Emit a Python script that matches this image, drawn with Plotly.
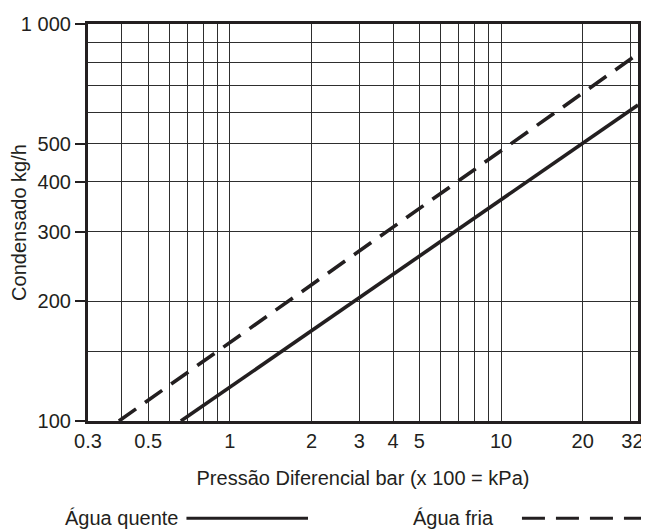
import plotly.graph_objects as go

# Data (log-log)
agua_quente_x = [0.66, 32]
agua_quente_y = [100, 625]
agua_fria_x = [0.39, 31.4]
agua_fria_y = [100, 833]

x_tickvals = [0.3, 0.5, 1, 2, 3, 4, 5, 10, 20, 32]
x_ticktext = ["0.3", "0.5", "1", "2", "3", "4", "5", "10", "20", "32\u00a0\u00a0"]
x_minor = [0.4, 0.6, 0.7, 0.8, 0.9, 6, 7, 8, 9, 30]
y_tickvals = [100, 200, 300, 400, 500, 1000]
y_ticktext = ["100", "200", "300", "400", "500", "1 000"]
y_minor = [150, 600, 700, 800, 900]

INK = "#231f20"
GRID = "#2e2e2e"
FONT = "Liberation Sans, Arial, sans-serif"
FS = 20

fig = go.Figure()
fig.add_trace(go.Scatter(x=agua_quente_x, y=agua_quente_y, mode="lines",
                         line=dict(color=INK, width=3.6), name="Água quente",
                         showlegend=False))
fig.add_trace(go.Scatter(x=agua_fria_x, y=agua_fria_y, mode="lines",
                         line=dict(color=INK, width=3.6, dash="21px,11px"),
                         name="Água fria", showlegend=False))

# page body has an 8px margin, so the figure is sized/offset to compensate
fig.update_layout(
    width=649, height=521,
    margin=dict(l=80, r=19, t=16, b=108),
    paper_bgcolor="white", plot_bgcolor="white",
    font=dict(family=FONT, size=FS, color=INK),
)
fig.update_xaxes(
    type="log", range=[-0.5228787, 1.50515], automargin=False,
    tickvals=x_tickvals, ticktext=x_ticktext, ticks="",
    ticklabeloverflow="allow",
    showgrid=True, gridcolor=GRID, gridwidth=1.4,
    minor=dict(tickvals=x_minor, showgrid=True, gridcolor=GRID, gridwidth=1.4, ticks=""),
    showline=True, linecolor=INK, linewidth=3.2, mirror=True,
    tickfont=dict(size=FS),
    title=dict(text="Pressão Diferencial bar (x 100 = kPa)", font=dict(size=FS), standoff=20),
    zeroline=False,
)
fig.update_yaxes(
    type="log", range=[2, 3], automargin=False,
    tickvals=y_tickvals, ticktext=y_ticktext, ticks="outside", ticklen=10,
    tickwidth=1.5, tickcolor=INK, ticklabeloverflow="allow",
    showgrid=True, gridcolor=GRID, gridwidth=1.4,
    minor=dict(tickvals=y_minor, showgrid=True, gridcolor=GRID, gridwidth=1.4, ticks=""),
    showline=True, linecolor=INK, linewidth=3.2, mirror=True,
    tickfont=dict(size=FS),
    title=dict(text="Condensado kg/h", font=dict(size=FS), standoff=0),
    zeroline=False,
)

# Legend drawn below the chart: label followed by line sample
leg_y = -0.245
fig.add_annotation(xref="paper", yref="paper", x=0.167, y=leg_y, text="Água quente",
                   showarrow=False, xanchor="right", yanchor="middle",
                   font=dict(size=FS, color=INK))
fig.add_shape(type="line", xref="paper", yref="paper", x0=0.179, x1=0.40,
              y0=leg_y, y1=leg_y, line=dict(color=INK, width=3))
fig.add_annotation(xref="paper", yref="paper", x=0.741, y=leg_y, text="Água fria",
                   showarrow=False, xanchor="right", yanchor="middle",
                   font=dict(size=FS, color=INK))
fig.add_shape(type="line", xref="paper", yref="paper", x0=0.789, x1=1.02,
              y0=leg_y, y1=leg_y, line=dict(color=INK, width=3, dash="23px,11px"))

fig.write_html("out.html")
